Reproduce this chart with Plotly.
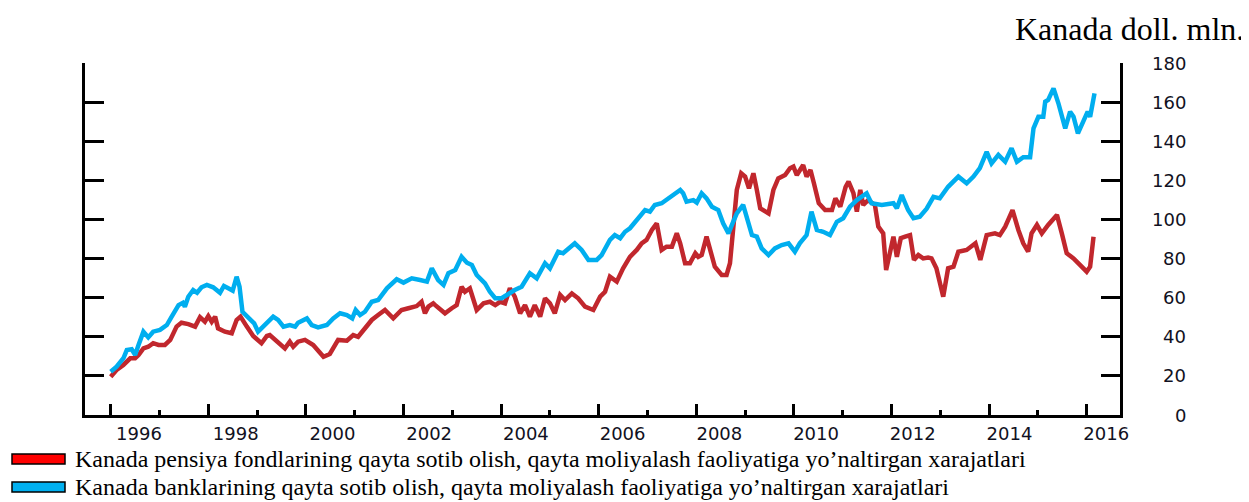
import plotly.graph_objects as go

# ---------------- data ----------------
blue_years = [1996.00, 1996.12, 1996.26, 1996.33, 1996.43, 1996.50, 1996.57, 1996.67, 1996.77, 1996.87,
              1997.01, 1997.15, 1997.25, 1997.39, 1997.48, 1997.52, 1997.59, 1997.69, 1997.77, 1997.86,
              1997.97, 1998.10, 1998.24, 1998.32, 1998.41, 1998.50, 1998.58, 1998.64, 1998.70, 1998.82,
              1998.94, 1999.02, 1999.13, 1999.23, 1999.33, 1999.43, 1999.54, 1999.67, 1999.78, 1999.84,
              2000.02, 2000.12, 2000.25, 2000.43, 2000.56, 2000.70, 2000.84, 2000.95, 2001.02, 2001.11,
              2001.21, 2001.35, 2001.48, 2001.66, 2001.86, 2002.00, 2002.17, 2002.34, 2002.48, 2002.58,
              2002.61, 2002.71, 2002.82, 2002.92, 2003.06, 2003.19, 2003.30, 2003.40, 2003.50, 2003.67,
              2003.77, 2003.88, 2004.01, 2004.15, 2004.28, 2004.42, 2004.59, 2004.73, 2004.90, 2005.00,
              2005.17, 2005.27, 2005.41, 2005.51, 2005.65, 2005.79, 2005.96, 2006.06, 2006.23, 2006.33,
              2006.44, 2006.54, 2006.64, 2006.78, 2006.95, 2007.05, 2007.15, 2007.29, 2007.43, 2007.56,
              2007.67, 2007.73, 2007.80, 2007.94, 2008.01, 2008.11, 2008.21, 2008.32, 2008.45, 2008.55,
              2008.66, 2008.73, 2008.83, 2008.96, 2009.07, 2009.14, 2009.24, 2009.34, 2009.48, 2009.61,
              2009.75, 2009.89, 2010.02, 2010.12, 2010.26, 2010.36, 2010.47, 2010.60, 2010.74, 2010.88,
              2011.01, 2011.15, 2011.29, 2011.39, 2011.49, 2011.59, 2011.80, 2012.04, 2012.11, 2012.21,
              2012.34, 2012.45, 2012.58, 2012.72, 2012.86, 2012.99, 2013.16, 2013.37, 2013.54, 2013.68,
              2013.81, 2013.95, 2014.05, 2014.19, 2014.33, 2014.46, 2014.57, 2014.70, 2014.84, 2014.91,
              2015.01, 2015.11, 2015.15, 2015.21, 2015.32, 2015.42, 2015.56, 2015.66, 2015.73, 2015.82,
              2015.93, 2016.02, 2016.07, 2016.16]
blue_values = [22.1, 24.7, 29.0, 33.2, 33.6, 30.7, 35.8, 42.6, 39.7, 42.6,
               43.5, 46.0, 50.3, 56.2, 57.4, 55.4, 60.5, 63.9, 62.5, 65.3,
               66.5, 65.3, 62.5, 66.0, 64.8, 63.6, 70.7, 65.6, 52.8, 50.0,
               46.9, 42.6, 45.2, 48.2, 50.3, 48.6, 45.2, 46.0, 45.2, 47.2,
               49.4, 46.0, 44.8, 46.0, 49.4, 52.0, 51.1, 49.4, 53.7, 51.1,
               52.8, 57.9, 58.8, 64.8, 69.4, 67.7, 69.9, 69.0, 68.2, 75.0,
               73.3, 69.0, 66.5, 72.5, 74.1, 80.9, 77.9, 76.7, 71.6, 67.3,
               63.0, 59.7, 59.7, 62.2, 63.9, 65.6, 72.5, 69.9, 77.6, 75.0,
               83.5, 82.7, 86.1, 87.8, 84.4, 79.3, 79.3, 81.8, 89.5, 92.0,
               90.4, 93.7, 95.5, 99.7, 104.8, 104.0, 107.4, 108.3, 110.8, 112.5,
               115.1, 113.4, 109.1, 109.9, 108.6, 113.4, 110.8, 106.5, 104.8, 98.0,
               92.9, 97.2, 103.1, 107.4, 98.0, 92.0, 91.2, 85.2, 81.8, 85.2,
               86.9, 87.8, 83.5, 87.8, 92.0, 104.0, 94.6, 93.7, 92.0, 98.8,
               100.6, 106.5, 109.9, 111.6, 113.4, 108.3, 107.4, 108.3, 105.7, 112.5,
               104.8, 100.6, 101.4, 105.5, 111.6, 110.8, 116.7, 121.9, 118.5, 121.9,
               126.2, 134.6, 128.7, 133.0, 129.5, 136.4, 129.5, 131.8, 131.8, 146.6,
               152.5, 152.5, 160.2, 161.1, 167.0, 159.4, 146.6, 155.1, 152.5, 144.0,
               150.8, 155.1, 152.5, 164.5]

red_years = [1996.00, 1996.12, 1996.26, 1996.40, 1996.50, 1996.57, 1996.67, 1996.77, 1996.87, 1996.98,
             1997.11, 1997.22, 1997.35, 1997.45, 1997.59, 1997.73, 1997.83, 1997.93, 1998.00, 1998.07,
             1998.14, 1998.20, 1998.34, 1998.48, 1998.58, 1998.66, 1998.79, 1998.92, 1999.09, 1999.20,
             1999.26, 1999.40, 1999.57, 1999.67, 1999.74, 1999.84, 1999.98, 2000.15, 2000.36, 2000.49,
             2000.66, 2000.84, 2000.97, 2001.07, 2001.21, 2001.35, 2001.48, 2001.62, 2001.79, 2001.96,
             2002.10, 2002.27, 2002.37, 2002.44, 2002.51, 2002.61, 2002.65, 2002.85, 2002.99, 2003.09,
             2003.19, 2003.26, 2003.36, 2003.50, 2003.64, 2003.77, 2003.88, 2003.98, 2004.08, 2004.18,
             2004.28, 2004.39, 2004.49, 2004.59, 2004.69, 2004.80, 2004.90, 2005.00, 2005.10, 2005.21,
             2005.31, 2005.45, 2005.58, 2005.72, 2005.89, 2005.99, 2006.03, 2006.13, 2006.23, 2006.37,
             2006.50, 2006.64, 2006.78, 2006.88, 2006.98, 2007.09, 2007.19, 2007.29, 2007.39, 2007.50,
             2007.60, 2007.67, 2007.77, 2007.87, 2007.98, 2008.04, 2008.11, 2008.21, 2008.28, 2008.38,
             2008.52, 2008.62, 2008.69, 2008.76, 2008.83, 2008.92, 2009.00, 2009.08, 2009.17, 2009.24,
             2009.31, 2009.48, 2009.58, 2009.68, 2009.82, 2009.92, 2009.99, 2010.06, 2010.12, 2010.19,
             2010.26, 2010.34, 2010.41, 2010.51, 2010.64, 2010.78, 2010.85, 2010.95, 2011.06, 2011.12,
             2011.22, 2011.29, 2011.36, 2011.42, 2011.52, 2011.66, 2011.73, 2011.83, 2011.89, 2011.97,
             2012.04, 2012.11, 2012.19, 2012.28, 2012.38, 2012.46, 2012.55, 2012.65, 2012.75, 2012.82,
             2012.92, 2013.06, 2013.16, 2013.27, 2013.37, 2013.54, 2013.72, 2013.82, 2013.95, 2014.12,
             2014.22, 2014.33, 2014.48, 2014.60, 2014.70, 2014.80, 2014.87, 2014.98, 2015.08, 2015.21,
             2015.39, 2015.49, 2015.59, 2015.73, 2015.86, 2016.00, 2016.07, 2016.14]
red_values = [19.6, 23.0, 25.6, 29.0, 29.0, 30.7, 34.1, 34.9, 36.7, 35.8,
              35.8, 38.4, 45.2, 47.2, 46.5, 45.2, 50.0, 47.7, 50.6, 47.7,
              50.3, 44.3, 42.6, 41.8, 48.6, 50.3, 45.2, 40.4, 36.7, 40.4,
              40.9, 37.5, 34.1, 37.5, 34.9, 37.5, 38.4, 35.8, 29.8, 31.2,
              38.4, 38.0, 40.9, 40.0, 44.3, 48.6, 51.1, 53.7, 49.4, 53.7,
              54.6, 55.7, 57.9, 52.0, 55.4, 57.1, 56.2, 52.0, 54.6, 56.2,
              65.6, 63.0, 64.8, 53.7, 57.1, 57.9, 56.2, 57.9, 57.1, 64.8,
              60.5, 52.0, 56.2, 50.3, 56.2, 50.3, 59.7, 57.1, 52.0, 61.4,
              58.8, 62.2, 59.7, 55.4, 53.7, 57.9, 60.5, 63.0, 70.7, 68.2,
              75.0, 80.9, 84.4, 87.8, 89.5, 94.6, 98.0, 84.4, 86.1, 86.1,
              92.9, 87.8, 77.6, 77.6, 82.7, 80.9, 81.8, 91.2, 84.4, 75.8,
              71.6, 71.6, 77.6, 98.0, 115.1, 123.6, 121.9, 115.9, 123.6, 115.1,
              105.7, 103.1, 115.1, 121.0, 122.7, 126.2, 127.0, 122.7, 125.3, 127.8,
              121.9, 125.3, 118.5, 108.3, 104.8, 104.8, 110.8, 106.5, 116.7, 119.3,
              113.4, 104.0, 115.1, 107.4, 109.9, 107.4, 96.3, 92.9, 74.1, 84.4,
              91.2, 80.9, 90.4, 91.2, 92.0, 79.3, 81.8, 80.1, 80.5, 80.1,
              75.0, 60.5, 75.0, 75.8, 83.5, 84.4, 87.8, 79.3, 92.0, 92.9,
              92.0, 96.3, 104.8, 94.6, 87.8, 83.5, 92.9, 97.2, 92.9, 97.2,
              102.3, 92.9, 82.7, 80.1, 76.7, 73.3, 75.8, 91.2]

x_tick_years = list(range(1996, 2017, 2))
y_ticks = list(range(0, 181, 20))

red_name = "Kanada pensiya fondlarining qayta sotib olish, qayta moliyalash faoliyatiga yo\u2019naltirgan xarajatlari"
blue_name = "Kanada banklarining qayta sotib olish, qayta moliyalash faoliyatiga yo\u2019naltirgan xarajatlari"
unit_label = "Kanada doll. mln."

# ---------------- layout geometry (page pixels; body has an 8px margin) ----------------
OFF = 8
W, H = 1249 - OFF, 502 - OFF
PLOT_L, PLOT_R, PLOT_T, PLOT_B = 85, 1120, 63, 415   # page pixels of the plot area
L, T = PLOT_L - OFF, PLOT_T - OFF
R, B = W - (PLOT_R - OFF), H - (PLOT_B - OFF)
PW, PH = PLOT_R - PLOT_L, PLOT_B - PLOT_T
PX_PER_YEAR = 48.8
X0_PX = 110.7  # page pixel of 1996
x_range = [1996 - (X0_PX - PLOT_L) / PX_PER_YEAR, 1996 + (PLOT_R - X0_PX) / PX_PER_YEAR]


def px_to_paper_x(px):
    return (px - PLOT_L) / PW


def px_to_paper_y(py):
    return (PLOT_B - py) / PH


RED_LINE = "#C1272D"
BLUE_LINE = "#00AEEF"
TICK_FONT = dict(family="DejaVu Sans", size=18, color="#111122")
SERIF = "Liberation Serif"

fig = go.Figure()
fig.add_trace(go.Scatter(x=red_years, y=red_values, mode="lines", name=red_name,
                         line=dict(color=RED_LINE, width=4.5), xaxis="x", yaxis="y"))
fig.add_trace(go.Scatter(x=blue_years, y=blue_values, mode="lines", name=blue_name,
                         line=dict(color=BLUE_LINE, width=4.5), xaxis="x2", yaxis="y"))

# label positions: centred a little to the right of each tick
label_pos = [yr + 0.58 - 0.009 * (yr - 1996) for yr in x_tick_years]

fig.update_layout(
    width=W, height=H,
    margin=dict(l=L, r=R, t=T, b=B, pad=0),
    paper_bgcolor="white", plot_bgcolor="white",
    showlegend=False,
    xaxis=dict(range=x_range, showgrid=False, zeroline=False,
               showline=True, linecolor="black", linewidth=3,
               tickmode="array", tickvals=x_tick_years, ticks="inside",
               ticklen=11, tickwidth=2.5, tickcolor="black", showticklabels=False,
               minor=dict(tickmode="array", tickvals=list(range(1997, 2016, 2)),
                          ticks="inside", ticklen=5, tickwidth=2.5, tickcolor="black")),
    xaxis2=dict(range=x_range, overlaying="x", side="bottom", anchor="y",
                showgrid=False, zeroline=False, showline=False,
                tickmode="array", tickvals=label_pos,
                ticktext=[str(y) for y in x_tick_years], ticks="",
                tickfont=TICK_FONT, ticklabelstandoff=6),
    yaxis=dict(range=[0, 180], side="right", showgrid=False, zeroline=False,
               showline=True, linecolor="black", linewidth=3, mirror="ticks",
               tickmode="array", tickvals=y_ticks, ticks="inside", ticklen=19,
               tickwidth=2.5, tickcolor="black", showticklabels=False),
)

annotations = []
for v in y_ticks:
    annotations.append(dict(x=px_to_paper_x(1188), xref="paper", y=v, yref="y",
                            text=str(v), showarrow=False, xanchor="right", yanchor="middle",
                            font=TICK_FONT))

annotations.append(dict(x=px_to_paper_x(1246), xref="paper", y=px_to_paper_y(29), yref="paper",
                        text=unit_label, showarrow=False, xanchor="right", yanchor="middle",
                        font=dict(family=SERIF, size=32, color="black")))

shapes = []
legend_rows = [(red_name, "#FF0000", 459), (blue_name, "#00B0F0", 487)]
for name, col, cy in legend_rows:
    shapes.append(dict(type="rect", xref="paper", yref="paper",
                       x0=px_to_paper_x(12), x1=px_to_paper_x(65),
                       y0=px_to_paper_y(cy + 5), y1=px_to_paper_y(cy - 5),
                       fillcolor=col, line=dict(color="black", width=1.5)))
    annotations.append(dict(x=px_to_paper_x(73), xref="paper", y=px_to_paper_y(cy), yref="paper",
                            text=name, showarrow=False, xanchor="left", yanchor="middle",
                            font=dict(family=SERIF, size=24, color="black")))

fig.update_layout(annotations=annotations, shapes=shapes)
fig.write_html("out.html")
